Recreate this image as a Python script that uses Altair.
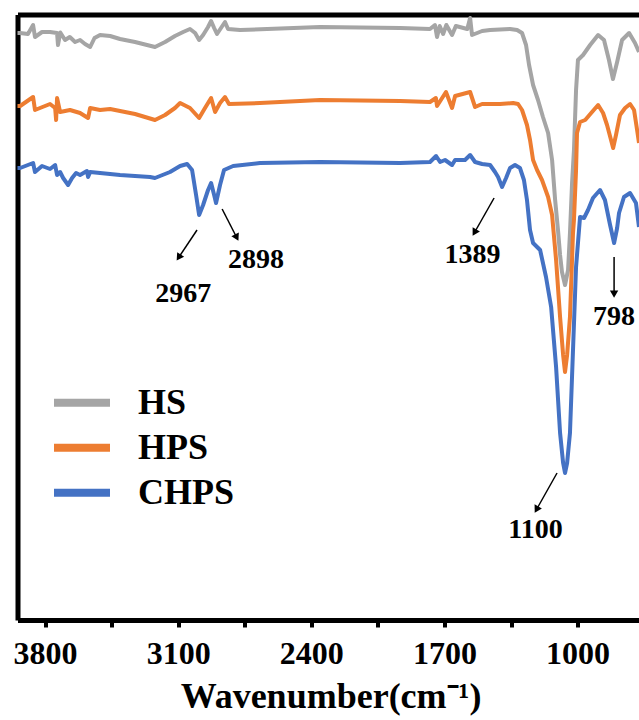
import altair as alt
import pandas as pd

FONT = "Times New Roman, Liberation Serif, serif"

# ---------------- data ----------------
series_names = ["HS", "HPS", "CHPS"]
series_colors = ["#A5A5A5", "#ED7D31", "#4472C4"]

hs_wn = [3945, 3931, 3890, 3863, 3853, 3816, 3774, 3737, 3732, 3720, 3695, 3670, 3642, 3616, 3590,
         3563, 3540, 3511, 3458, 3406, 3327, 3222, 3169, 3117, 3074, 3038, 3011, 2990, 2969, 2943,
         2927, 2911, 2896, 2875, 2854, 2838, 2775, 2354, 1933, 1776, 1750, 1739, 1725, 1707, 1690,
         1660, 1640, 1580, 1565, 1555, 1528, 1502, 1460, 1355, 1318, 1292, 1271, 1255, 1234, 1208,
         1182, 1155, 1134, 1118, 1103, 1092, 1082, 1066, 1050, 1040, 1029, 1019, 1008, 998, 971,
         934, 892, 861, 835, 814, 792, 766, 729, 698, 677]
hs_t = [117.4, 117.4, 117.2, 119.0, 116.6, 117.6, 117.6, 117.4, 115.0, 117.5, 116.0, 116.6, 115.6, 116.0, 115.2,
        114.6, 116.4, 117.0, 116.8, 116.2, 115.6, 114.6, 115.6, 116.8, 117.6, 118.2, 117.4, 116.0, 117.0, 118.6,
        119.8, 118.4, 117.2, 118.4, 119.6, 118.2, 118.0, 118.6, 118.4, 118.2, 119.0, 116.6, 118.8, 117.2, 119.0,
        117.0, 118.8, 118.2, 120.4, 117.0, 117.4, 117.8, 118.0, 118.2, 118.0, 117.4, 115.0, 111.0, 107.0, 104.0,
        100.6, 97.4, 92.0, 84.0, 78.0, 73.0, 69.6, 67.0, 70.0, 77.4, 87.4, 94.0, 106.0, 112.0, 113.0,
        115.0, 117.0, 116.0, 112.0, 108.2, 111.6, 116.0, 117.4, 115.4, 113.6]

hps_wn = [3945, 3931, 3863, 3853, 3774, 3747, 3742, 3737, 3721, 3669, 3616, 3574, 3563, 3511, 3458,
          3327, 3222, 3169, 3117, 3090, 3038, 2990, 2959, 2927, 2906, 2880, 2854, 2833, 2670, 2354,
          1933, 1776, 1745, 1739, 1692, 1660, 1644, 1565, 1539, 1502, 1408, 1339, 1313, 1292, 1266,
          1250, 1234, 1213, 1187, 1155, 1134, 1113, 1092, 1076, 1066, 1055, 1040, 1024, 1019, 1008,
          1003, 987, 960, 924, 892, 866, 845, 824, 813, 798, 777, 750, 724, 703, 687, 677]
hps_t = [102.8, 102.8, 104.6, 102.0, 103.2, 102.4, 100.0, 104.4, 101.6, 102.0, 101.4, 100.4, 102.4, 102.0, 102.2,
         101.2, 100.0, 101.0, 102.4, 103.4, 102.4, 100.4, 102.4, 104.4, 101.6, 103.4, 104.6, 103.2, 103.4, 104.0,
         103.8, 103.6, 104.4, 102.8, 105.6, 102.4, 104.8, 105.6, 102.6, 103.2, 103.2, 103.4, 103.2, 102.0, 99.0,
         96.0, 92.0, 90.0, 88.0, 84.6, 81.0, 72.0, 60.6, 53.0, 49.6, 53.0, 60.6, 77.4, 80.0, 90.0,
         97.4, 99.6, 100.0, 101.6, 103.0, 101.4, 99.0, 96.0, 94.4, 97.0, 101.0, 102.4, 103.2, 102.0, 98.0, 95.4]

chps_wn = [3945, 3931, 3863, 3853, 3816, 3774, 3747, 3737, 3721, 3705, 3679, 3658, 3637, 3616, 3580,
           3574, 3563, 3511, 3406, 3248, 3222, 3143, 3090, 3053, 3027, 3006, 2990, 2969, 2943, 2927,
           2911, 2901, 2880, 2859, 2811, 2670, 2354, 1933, 1776, 1744, 1723, 1697, 1660, 1644, 1592,
           1565, 1539, 1502, 1460, 1434, 1418, 1397, 1376, 1355, 1329, 1303, 1282, 1266, 1250, 1234,
           1197, 1166, 1139, 1113, 1092, 1076, 1066, 1055, 1040, 1024, 1008, 987, 966, 945, 919,
           882, 856, 829, 808, 792, 782, 756, 724, 693, 677]
chps_t = [90.4, 90.4, 91.4, 89.6, 90.8, 90.2, 91.0, 89.0, 89.6, 88.4, 87.0, 88.4, 89.4, 89.0, 89.8,
          88.6, 89.6, 89.4, 89.0, 88.6, 88.4, 89.6, 90.8, 91.2, 90.0, 85.0, 81.0, 83.0, 86.0, 87.4,
          85.0, 83.4, 87.0, 90.0, 90.8, 91.4, 91.6, 91.4, 91.6, 92.8, 91.6, 92.0, 91.0, 92.0, 92.0,
          93.0, 91.6, 91.2, 91.0, 89.6, 88.6, 86.6, 88.4, 90.4, 91.0, 90.4, 88.0, 84.0, 78.0, 75.4,
          74.0, 68.6, 62.6, 50.6, 37.4, 31.4, 29.4, 31.4, 37.4, 54.0, 70.6, 80.6, 80.4, 82.0, 84.4,
          86.0, 84.0, 79.0, 75.4, 78.4, 81.4, 84.6, 85.4, 83.4, 78.6]

# peak annotations
ann_labels = ["2967", "2898", "1389", "1100", "798"]
ann_label_wn = [3074, 2691, 1552, 1221, 808]
ann_label_t = [63.6, 70.4, 71.4, 16.4, 59.0]
ann_start_wn = [3001, 2869, 1439, 1108, 808]
ann_start_t = [78.0, 82.2, 84.4, 29.4, 72.6]
ann_head_wn = [3094, 2795, 1539, 1213, 808]
ann_head_t = [72.7, 76.7, 77.7, 22.3, 65.4]
ann_head_angle = [214, 153, 210, 209, 180]

# axis ticks
major_ticks = [3800, 3100, 2400, 1700, 1000]
minor_ticks = [3450, 2750, 2050, 1350]
x_domain = [677, 3945]
y_domain = [0, 121.1]

# ---------------- tables ----------------
frames = []
for name, wn, t in zip(series_names, [hs_wn, hps_wn, chps_wn], [hs_t, hps_t, chps_t]):
    frames.append(pd.DataFrame({"wn": wn, "t": t, "series": name}))
spectra = pd.concat(frames, ignore_index=True)

ann = pd.DataFrame({
    "label": ann_labels, "lwn": ann_label_wn, "lt": ann_label_t,
    "wn": ann_start_wn, "t": ann_start_t,
    "wn2": ann_head_wn, "t2": ann_head_t, "ang": ann_head_angle,
})

# ---------------- axes / scales ----------------
TITLE = "Wavenumber(cm⁻¹)"
tick_values = sorted(major_ticks + minor_ticks, reverse=True)
label_expr = "indexof([" + ",".join(str(v) for v in major_ticks) + "], datum.value) >= 0 ? datum.label : ''"

x_scale = alt.Scale(domain=x_domain, reverse=True, nice=False, zero=False)
y_scale = alt.Scale(domain=y_domain, nice=False, zero=False)

x_axis = alt.Axis(
    values=tick_values, labelExpr=label_expr, format="d",
    labelFont=FONT, labelFontSize=32, labelFontWeight="bold", labelColor="black",
    labelBaseline="alphabetic", labelPadding=36, labelFlush=False, labelOverlap=False,
    tickSize=7, tickWidth=4, tickColor="black",
    domainColor="black", domainWidth=5, grid=False,
    titleFont=FONT, titleFontSize=36, titleFontWeight="bold", titleColor="black",
    titleBaseline="alphabetic", titleY=87, titleX=313, titleAlign="center",
)
y_axis = alt.Axis(
    values=[y_domain[1]], grid=True, gridColor="black", gridWidth=5, gridOpacity=1,
    ticks=False, labels=False, title=None, domainColor="black", domainWidth=5,
)


def X(field):
    return alt.X(field, scale=x_scale, axis=x_axis, title=TITLE)


def Y(field):
    return alt.Y(field, scale=y_scale, axis=y_axis, title=None)


lines = alt.Chart(spectra).mark_line(strokeWidth=4, strokeJoin="round").encode(
    x=X("wn:Q"),
    y=Y("t:Q"),
    color=alt.Color(
        "series:N",
        scale=alt.Scale(domain=series_names, range=series_colors),
        sort=series_names,
        legend=alt.Legend(
            orient="none", legendX=32.5, legendY=366, direction="vertical", title=None,
            symbolType="stroke", symbolStrokeWidth=8, symbolSize=3136, symbolOpacity=1,
            labelFont=FONT, labelFontSize=36, labelFontWeight="bold", labelColor="black",
            labelOffset=24, rowPadding=0, clipHeight=44.5, padding=0, labelLimit=400,
        ),
    ),
    detail="series:N",
)

arrows = alt.Chart(ann).mark_rule(color="black", strokeWidth=1.5).encode(
    x=X("wn:Q"), y=Y("t:Q"), x2="wn2:Q", y2="t2:Q",
)

heads = alt.Chart(ann).mark_point(shape="triangle", filled=True, size=70, color="black", opacity=1).encode(
    x=X("wn2:Q"), y=Y("t2:Q"), angle=alt.Angle("ang:Q", scale=None),
)

labels = alt.Chart(ann).mark_text(
    font=FONT, fontSize=28, fontWeight="bold", align="center", baseline="alphabetic", color="black",
).encode(x=X("lwn:Q"), y=Y("lt:Q"), text="label:N")

chart = alt.layer(lines, arrows, heads, labels).properties(
    width=621.5, height=605.5,
    autosize=alt.AutoSizeParams(type="none"),
    padding={"left": 17.5, "top": 14.5, "right": 0, "bottom": 100},
    background="white",
).configure_view(stroke=None)

chart.save("out.html", embed_options={"renderer": "svg", "actions": False})
